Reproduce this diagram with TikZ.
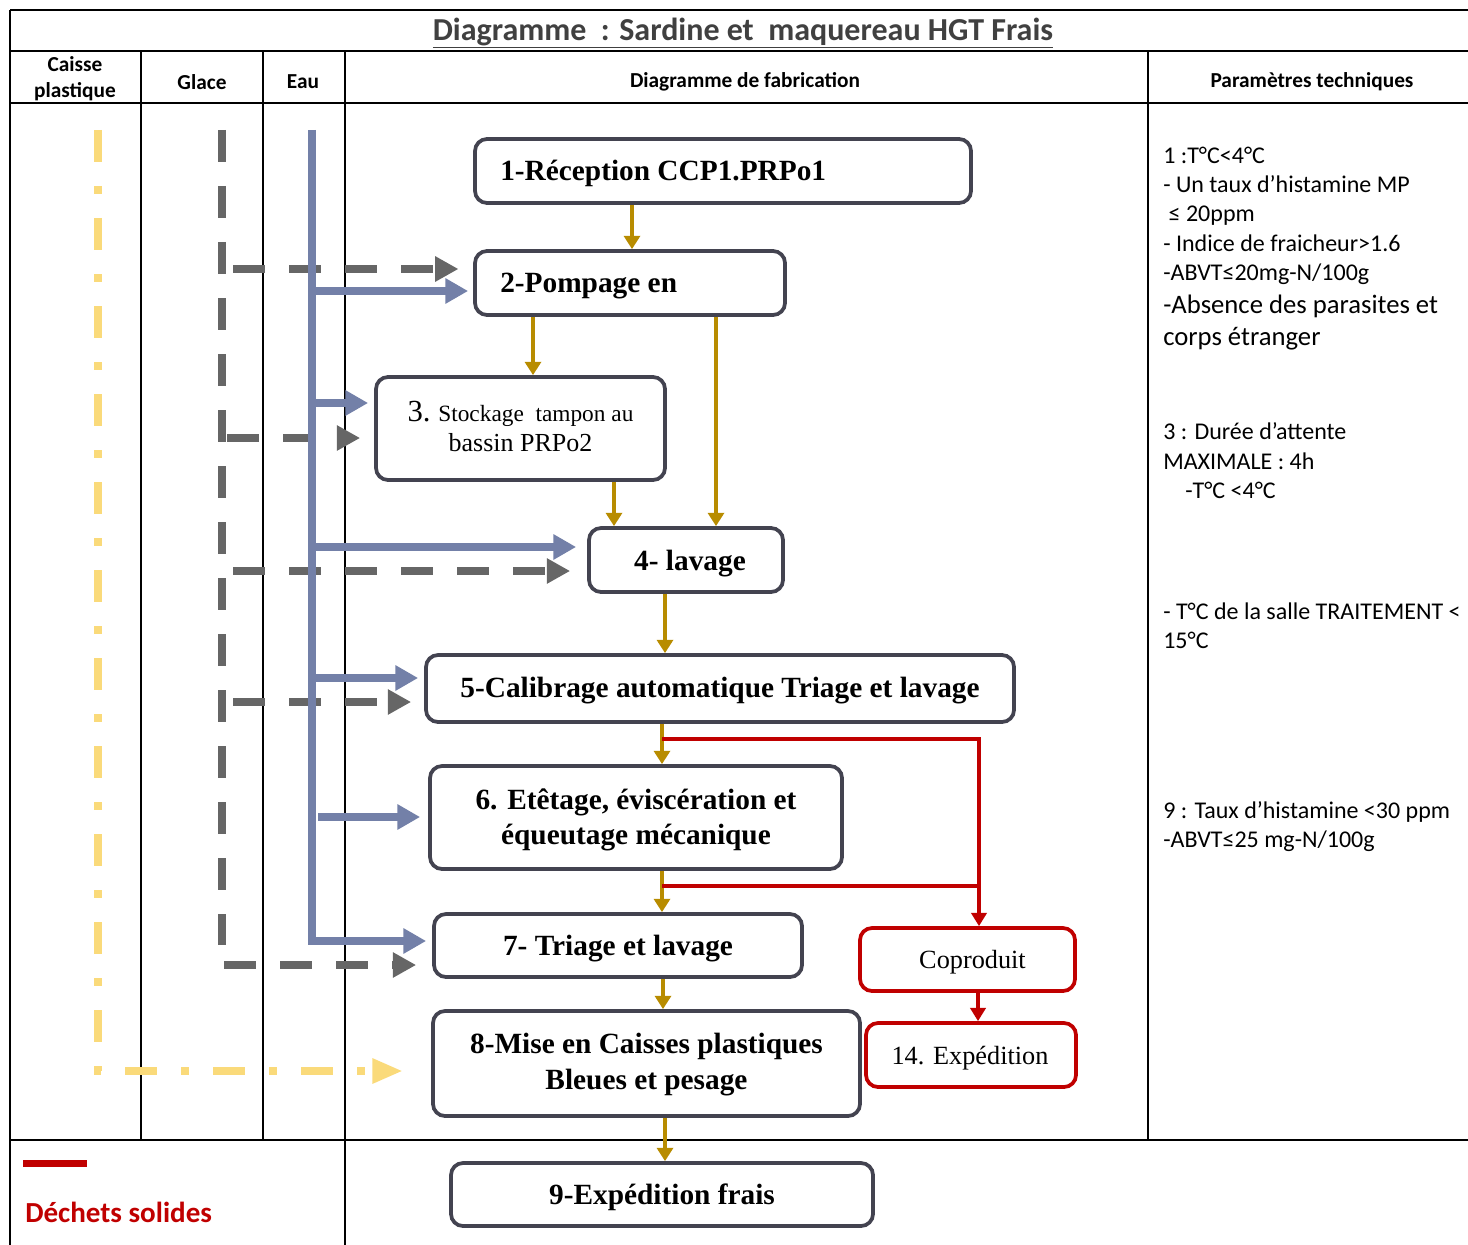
\documentclass[tikz,border=0pt]{standalone}
\usepackage{fontspec}
\setmainfont{Liberation Serif}
\newfontfamily\calfont{Carlito}
\usetikzlibrary{arrows.meta}
\definecolor{goldc}{RGB}{184,140,0}
\definecolor{bluec}{RGB}{115,128,168}
\definecolor{grayc}{RGB}{102,102,102}
\definecolor{yellc}{RGB}{250,218,122}
\definecolor{boxc}{RGB}{67,67,80}
\definecolor{redc}{RGB}{192,0,0}
\definecolor{titc}{RGB}{64,64,64}
\begin{document}
\begin{tikzpicture}[x=0.75pt,y=-0.75pt,
 tab/.style={line width=1.6pt, black},
 box/.style={draw=boxc, line width=2.8pt, rounded corners=9pt, inner sep=0pt},
 rbox/.style={draw=redc, line width=2.8pt, rounded corners=9pt, inner sep=0pt},
 btxt/.style={font=\fontsize{22}{26.5}\selectfont\bfseries, inner sep=0pt, align=center},
 rtxt/.style={font=\fontsize{19.7}{23}\selectfont, inner sep=0pt, align=center},
 garrow/.style={draw=goldc, line width=3pt, -{Triangle[width=12pt,length=10pt]}},
 rline/.style={draw=redc, line width=2.6pt},
 rarrow/.style={rline, -{Triangle[width=11.5pt,length=10pt]}},
 barrow/.style={draw=bluec, line width=6pt, -{Triangle[width=18pt,length=17pt]}},
 gdash/.style={draw=grayc, line width=5.8pt, dash pattern=on 24pt off 18pt},
 garr/.style={gdash, -{Triangle[width=18pt,length=17.5pt]}},
 ydash/.style={draw=yellc, line width=6pt, dash pattern=on 24pt off 18pt on 6pt off 18pt, -{Triangle[width=17.5pt,length=23pt]}},
 hdr/.style={font=\calfont\bfseries\fontsize{16}{19.5}\selectfont, align=center, inner sep=0pt},
 par/.style={font=\calfont\fontsize{18}{21}\selectfont, anchor=base west, inner sep=0pt},
 parb/.style={font=\calfont\fontsize{20}{23}\selectfont, anchor=base west, inner sep=0pt},
]
\useasboundingbox (0,0) rectangle (1468,1245);
% table
\draw[tab] (10,10) -- (1468,10);
\draw[tab] (10,51) -- (1468,51);
\draw[tab] (10,103) -- (1468,103);
\draw[tab] (10,1140) -- (1468,1140);
\draw[tab] (10,10) -- (10,1245);
\draw[tab] (141,51) -- (141,1140);
\draw[tab] (263,51) -- (263,1140);
\draw[tab] (345,51) -- (345,1245);
\draw[tab] (1148,51) -- (1148,1140);
% title and headers
\node[font=\calfont\bfseries\fontsize{24}{28}\selectfont, text=titc, inner sep=0pt] (title) at (743,33) {\underline{Diagramme\ \ : Sardine et\ \ maquereau HGT Frais}};
\node[hdr] (h1) at (75,79) {Caisse\\plastique};
\node[hdr] (h2) at (202,82) {Glace};
\node[hdr] (h3) at (303,82) {Eau};
\node[hdr] (h4) at (745,82) {Diagramme de fabrication};
\node[hdr] (h5) at (1312,82) {Paramètres techniques};
% boxes
\node[box, minimum width=372pt, minimum height=48pt] (b1) at (723,171) {};
\node[btxt, anchor=west] (b1t) at (500,173) {1-Réception CCP1.PRPo1};
\node[box, minimum width=232.5pt, minimum height=48pt] (b2) at (630,283) {};
\node[btxt, anchor=west] (b2t) at (500,286) {2-Pompage en};
\node[box, minimum width=216.75pt, minimum height=77.25pt] (b3) at (520.5,428.5) {};
\node[inner sep=0pt, align=center, font=\fontsize{17.5}{22.5}\selectfont] (b3t) at (520.5,426) {{\fontsize{23}{22.5}\selectfont 3.} Stockage\ \ tampon au\\{\fontsize{19.5}{22.5}\selectfont bassin PRPo2}};
\node[box, minimum width=145.5pt, minimum height=48pt] (b4) at (686,560) {};
\node[btxt] (b4t) at (690,564) {4- lavage};
\node[box, minimum width=441pt, minimum height=50.25pt] (b5) at (720,688.5) {};
\node[btxt] (b5t) at (720,691) {5-Calibrage automatique Triage et lavage};
\node[box, minimum width=309pt, minimum height=77.25pt] (b6) at (636,817.5) {};
\node[btxt] (b6t) at (636,820) {6. Etêtage, éviscération et\\équeutage mécanique};
\node[box, minimum width=276pt, minimum height=47.25pt] (b7) at (618,945.5) {};
\node[btxt] (b7t) at (618,949) {7- Triage et lavage};
\node[box, minimum width=320.25pt, minimum height=78.75pt] (b8) at (646.5,1063.5) {};
\node[btxt] (b8t) at (646.5,1064.5) {8-Mise en Caisses plastiques\\Bleues et pesage};
\node[box, minimum width=316.5pt, minimum height=47.25pt] (b9) at (662,1194.5) {};
\node[btxt] (b9t) at (662,1197) {9-Expédition frais};
\node[rbox, minimum width=161.25pt, minimum height=47.25pt] (cop) at (967.5,959.5) {};
\node[rtxt] (copt) at (972.5,962) {Coproduit};
\node[rbox, minimum width=157.5pt, minimum height=48pt] (exp) at (971,1055) {};
\node[rtxt] (expt) at (970,1058) {14. Expédition};
% gold flow arrows
\draw[garrow] (b1.south -| 632,0) -- (b2.north -| 632,0);
\draw[garrow] (b2.south -| 533,0) -- (b3.north -| 533,0);
\draw[garrow] (b2.south -| 716,0) -- (b4.north -| 716,0);
\draw[garrow] (b3.south -| 614,0) -- (b4.north -| 614,0);
\draw[garrow] (b4.south -| 665,0) -- (b5.north -| 665,0);
\draw[garrow] (b5.south -| 662,0) -- (b6.north -| 662,0);
\draw[garrow] (b6.south -| 662,0) -- (b7.north -| 662,0);
\draw[garrow] (b7.south -| 663,0) -- (b8.north -| 663,0);
\draw[garrow] (b8.south -| 665,0) -- (b9.north -| 665,0);
% red waste lines
\coordinate (r1) at (662,739);
\coordinate (r2) at (662,886);
\draw[rarrow] (r1) -| (cop.north -| 979,0);
\draw[rline] (r2) -- (r2 -| 979,0);
\draw[rarrow] (cop.south -| 978,0) -- (exp.north -| 978,0);
% yellow (caisse plastique)
\coordinate (ytop) at (98,130);
\coordinate (yend) at (403,1071);
\draw[ydash] (ytop) |- (yend);
% gray dashed (glace)
\coordinate (gtop) at (222,130);
\coordinate (gbot) at (222,945);
\draw[gdash] (gtop) -- (gbot);
\coordinate (g2) at (233,269);
\coordinate (g3) at (227,438);
\coordinate (g4) at (233,571);
\coordinate (g5) at (233,702);
\coordinate (g7) at (224,965);
\draw[garr, shorten >=11pt] (g2) -- (g2 -| b2.west);
\draw[garr, shorten >=10.5pt] (g3) -- (g3 -| b3.west);
\draw[garr, shorten >=12.75pt] (g4) -- (g4 -| b4.west);
\draw[garr, shorten >=9.75pt] (g5) -- (g5 -| b5.west);
\draw[garr, shorten >=12pt] (g7) -- (g7 -| b7.west);
% blue (eau)
\coordinate (etop) at (312,130);
\coordinate (e2) at (312,291);
\coordinate (e3) at (312,403);
\coordinate (e4) at (312,547);
\coordinate (e5) at (312,678);
\coordinate (e6) at (318,817);
\coordinate (e7) at (312,941);
\draw[barrow, shorten >=4.5pt] (etop) |- (e7 -| b7.west);
\draw[barrow, shorten >=3.75pt] (e2) -- (e2 -| b2.west);
\draw[barrow, shorten >=4.5pt] (e3) -- (e3 -| b3.west);
\draw[barrow, shorten >=8.25pt] (e4) -- (e4 -| b4.west);
\draw[barrow, shorten >=4.5pt] (e5) -- (e5 -| b5.west);
\draw[barrow, shorten >=6pt] (e6) -- (e6 -| b6.west);
% parameters
\node[par] (p1) at (1163,163.5) {1 :T°C<4°C};
\node[par] (p2) at (1163,192.5) {- Un taux d’histamine MP};
\node[par] (p3) at (1163,221.5) {\ ≤ 20ppm};
\node[par] (p4) at (1163,251.5) {- Indice de fraicheur>1.6};
\node[par] (p5) at (1163,280.5) {-ABVT≤20mg-N/100g};
\node[parb] (p6) at (1163,313) {-Absence des parasites et};
\node[parb] (p7) at (1163,345) {corps étranger};
\node[par] (p8) at (1163,439.5) {3 : Durée d’attente};
\node[par] (p9) at (1163,469.5) {MAXIMALE : 4h};
\node[par] (p10) at (1185,498.5) {-T°C <4°C};
\node[par] (p11) at (1163,619.5) {- T°C de la salle TRAITEMENT <};
\node[par] (p12) at (1163,648.5) {15°C};
\node[par] (p13) at (1163,818.5) {9 : Taux d’histamine <30 ppm};
\node[par] (p14) at (1163,847.5) {-ABVT≤25 mg-N/100g};
% legend
\coordinate (la) at (23,1163.5);
\coordinate (lb) at (87,1163.5);
\draw[redc, line width=5.5pt] (la) -- (lb);
\node[font=\calfont\bfseries\fontsize{21.8}{25}\selectfont, text=redc, anchor=base west, inner sep=0pt] (leg) at (25,1222) {Déchets solides};
\end{tikzpicture}
\end{document}
